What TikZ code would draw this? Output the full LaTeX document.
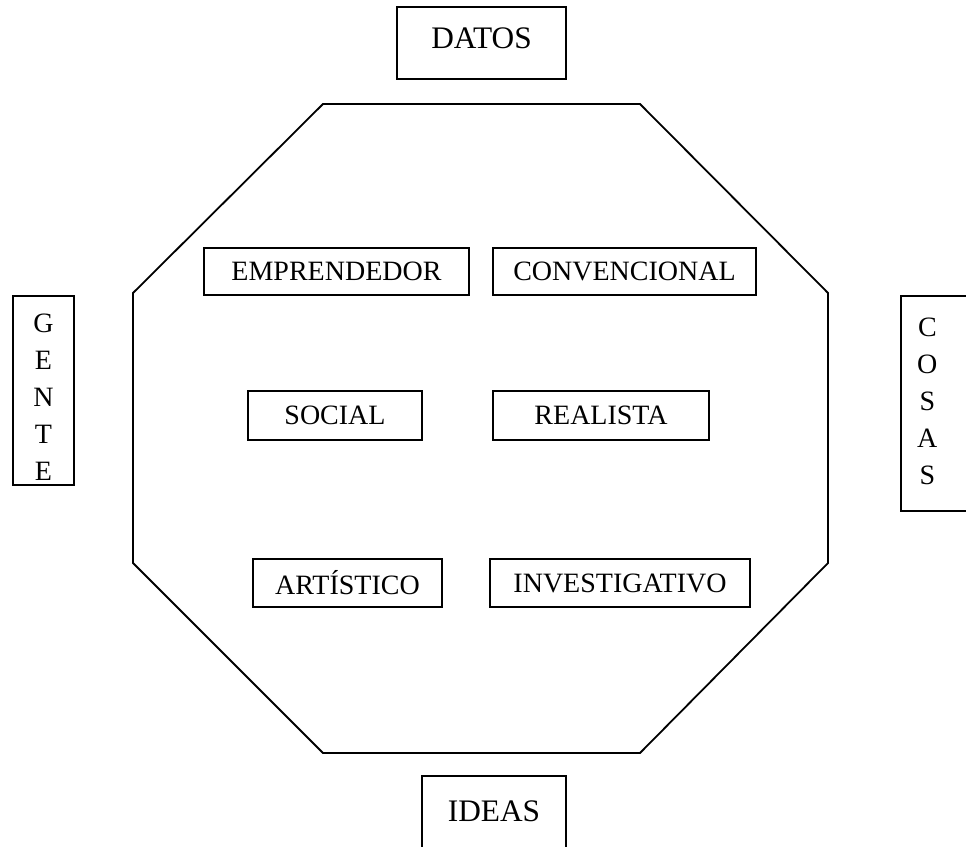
\documentclass[tikz,border=0pt]{standalone}
\usepackage{fontspec}
\setmainfont{Liberation Serif}
\begin{document}
\begin{tikzpicture}[x=0.75pt,y=-0.75pt,
  box/.style={draw=black,line width=1.35pt,inner sep=0pt,align=center,
    font=\fontsize{21}{27.75}\selectfont},
  bigbox/.style={box,font=\fontsize{23.5}{28}\selectfont},
  octo/.style={draw=black,line width=1.35pt}]
\useasboundingbox (0,0) rectangle (966,846);
\clip (0,0) rectangle (966,846);
\fill[white] (0,0) rectangle (966,846);
% octagon
\draw[octo] (323,104) -- (640,104) -- (828,293) -- (828,563) -- (640,753)
  -- (323,753) -- (133,563) -- (133,293) -- cycle;
% outer labels
\node[bigbox,minimum width=126.75pt,minimum height=54pt] (datos) at (481.5,43)
  {\raisebox{-4pt}[0pt][0pt]{DATOS}};
\node[bigbox,minimum width=108pt,minimum height=57pt] (ideas) at (494,814)
  {\raisebox{-5.5pt}[0pt][0pt]{IDEAS}};
\node[box,minimum width=45.75pt,minimum height=141.75pt] (gente) at (43.5,390.5)
  {\raisebox{-12pt}[0pt][0pt]{\begin{tabular}{@{}c@{}}G\\E\\N\\T\\E\end{tabular}}};
\node[box,minimum width=55.5pt,minimum height=161.25pt] (cosas) at (938,403.5)
  {\hspace*{-16pt}\raisebox{-5.25pt}[0pt][0pt]{\begin{tabular}{@{}c@{}}C\\O\\S\\A\\S\end{tabular}}};
% inner boxes
\node[box,minimum width=198.75pt,minimum height=35.25pt] (emp) at (336.5,271.5) {EMPRENDEDOR};
\node[box,minimum width=197.25pt,minimum height=35.25pt] (conv) at (624.5,271.5) {CONVENCIONAL};
\node[box,minimum width=130.5pt,minimum height=36.75pt] (soc) at (335,415.5) {SOCIAL};
\node[box,minimum width=162pt,minimum height=36.75pt] (real) at (601,415.5) {REALISTA};
\node[box,minimum width=141.75pt,minimum height=36pt] (art) at (347.5,583) {ARTÍSTICO};
\node[box,minimum width=195pt,minimum height=36pt] (inv) at (620,583) {INVESTIGATIVO};
\end{tikzpicture}
\end{document}
